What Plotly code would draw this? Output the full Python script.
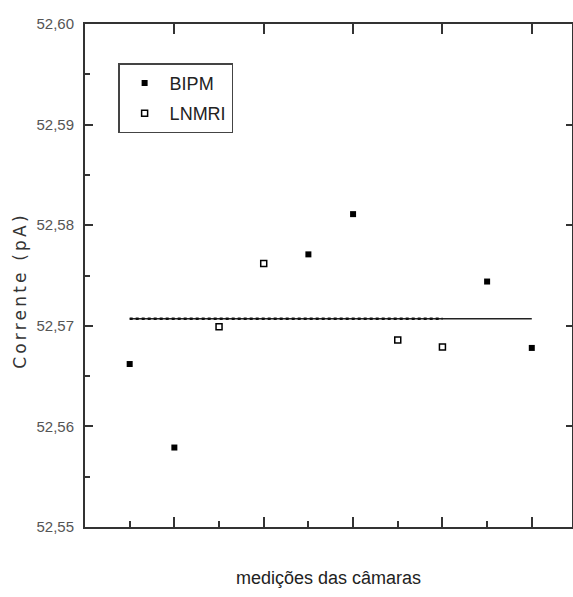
import plotly.graph_objects as go

# Data
bipm_x = [1, 2, 5, 6, 9, 10]
bipm_y = [52.5662, 52.5579, 52.5771, 52.5811, 52.5744, 52.5678]
lnmri_x = [3, 4, 7, 8]
lnmri_y = [52.5699, 52.5762, 52.5686, 52.5679]
major_x_ticks = [2, 4, 6, 8, 10]
minor_x_ticks = [1, 3, 5, 7, 9]
y_ticks = [52.55, 52.56, 52.57, 52.58, 52.59, 52.60]

all_x = sorted(bipm_x + lnmri_x)
all_y = bipm_y + lnmri_y
mean_y = sum(all_y) / len(all_y)

AX = "#333333"
SANS = "Liberation Sans, Arial, sans-serif"

fig = go.Figure()

# mean lines
fig.add_trace(go.Scatter(x=[all_x[0], all_x[-1]], y=[mean_y, mean_y], mode="lines",
                         line=dict(color="#222", width=1.5), showlegend=False, hoverinfo="skip"))
fig.add_trace(go.Scatter(x=[all_x[0], lnmri_x[-1]], y=[mean_y, mean_y], mode="lines",
                         line=dict(color="#111", width=2.5, dash="dot"), showlegend=False, hoverinfo="skip"))

fig.add_trace(go.Scatter(x=bipm_x, y=bipm_y, mode="markers", name="BIPM", legendgroup="a",
                         marker=dict(symbol="square", size=6, color="#000")))
fig.add_trace(go.Scatter(x=lnmri_x, y=lnmri_y, mode="markers", name="LNMRI", legendgroup="b",
                         marker=dict(symbol="square-open", size=6, color="#000", line=dict(width=1.5))))

# invisible trace so the mirrored (top/right) axes are drawn
fig.add_trace(go.Scatter(x=[all_x[0]], y=[mean_y], xaxis="x2", yaxis="y2", mode="markers",
                         marker=dict(opacity=0), showlegend=False, hoverinfo="skip"))

fig.update_layout(
    width=573, height=597,
    margin=dict(l=85, r=1, t=24, b=70),
    paper_bgcolor="white", plot_bgcolor="white",
    separators=",.",
    showlegend=True,
    legend=dict(x=0.068, y=0.922, xanchor="left", yanchor="top",
                bordercolor="#444", borderwidth=1.5, bgcolor="white",
                font=dict(family=SANS, size=18, color="#222"),
                tracegroupgap=4, itemwidth=40),
    xaxis=dict(range=[0, 10.9], showline=True, linecolor=AX, linewidth=2, automargin=False,
               showgrid=False, zeroline=False, ticks="inside", tickmode="array",
               tickvals=major_x_ticks, ticklen=10, tickwidth=1.5, tickcolor=AX,
               showticklabels=False,
               minor=dict(tickmode="array", tickvals=minor_x_ticks, ticks="inside",
                          ticklen=6, tickwidth=1.5, tickcolor=AX)),
    yaxis=dict(range=[52.55, 52.60], showline=True, linecolor=AX, linewidth=2, automargin=False,
               showgrid=False, zeroline=False, ticks="inside", tickmode="array",
               tickvals=y_ticks, tickformat=".2f", ticklen=8, tickwidth=1.5, tickcolor=AX,
               tickfont=dict(family=SANS, size=15, color="#555"), ticklabelstandoff=6,
               minor=dict(dtick=0.005, tick0=52.55, ticks="inside", ticklen=5,
                          tickwidth=1.5, tickcolor=AX)),
    xaxis2=dict(overlaying="x", matches="x", side="top", range=[0, 10.9], showline=True,
                automargin=False,
                linecolor=AX, linewidth=2, showgrid=False, zeroline=False, ticks="inside",
                tickmode="array", tickvals=major_x_ticks, ticklen=10, tickwidth=1.5,
                tickcolor=AX, showticklabels=False),
    yaxis2=dict(overlaying="y", matches="y", side="right", range=[52.55, 52.60], showline=True,
                automargin=False,
                linecolor=AX, linewidth=2, showgrid=False, zeroline=False, ticks="inside",
                tickmode="array", tickvals=y_ticks, ticklen=6, tickwidth=1.5,
                tickcolor=AX, showticklabels=False),
    annotations=[
        dict(text="medições das câmaras", xref="paper", yref="paper", x=0.501, y=-0.101,
             xanchor="center", yanchor="middle", showarrow=False,
             font=dict(family=SANS, size=18, color="#222")),
        dict(text="Corrente (pA)", xref="paper", yref="paper", x=-0.1335, y=0.471,
             xanchor="center", yanchor="middle", showarrow=False, textangle=-90,
             font=dict(family="DejaVu Sans, sans-serif", size=17, color="#333")),
    ],
)

post = """
document.body.style.margin = '0';
document.body.style.padding = '0';
document.querySelectorAll('text.annotation-text').forEach(function(t){
  if (t.textContent.indexOf('Corrente') === 0) { t.style.letterSpacing = '3.2px'; }
});
"""
fig.write_html("out.html", post_script=post, config={"displayModeBar": False})
